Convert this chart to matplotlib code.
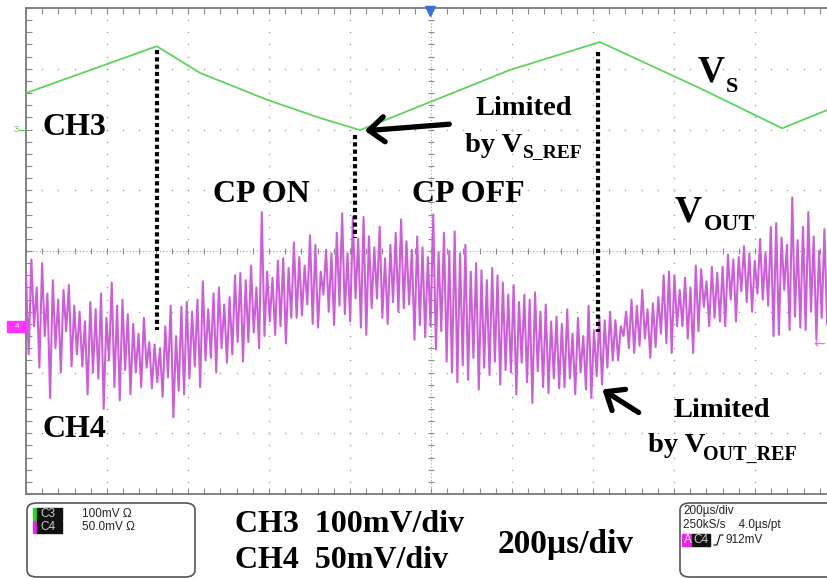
import numpy as np
import matplotlib
matplotlib.use("Agg")
import matplotlib.pyplot as plt
from matplotlib.patches import FancyBboxPatch, Rectangle
from matplotlib.lines import Line2D

W, H = 827, 578
SERIF = "Liberation Serif"
SANS = "Liberation Sans"

# screen: 10 div x 200 us, 8 div vertical
T_SPAN = (-1000, 1000)
Y_SPAN = (-4, 4)

# CH3 (V_S), 100 mV/div, screen-referenced
vs_t = [-1000, -677, -570, -405, -274, -175, 195, 417, 664, 867, 978]
vs_mv = [260, 337, 293, 249, 219, 199, 298, 344, 268, 202, 232]

# CH4 (V_OUT), 50 mV/div: ripple tips, read spike by spike
vout_hi_mv = [-20, -7, -30, -10, -35, -24, -40, -32, -28, -45,
              -50, -58, -42, -48, -35, -55, -26, -45, -40, -52,
              -60, -68, -55, -75, -77, -80, -62, -45, -70, -46,
              -42, -50, -40, -25, -48, -35, -30, -44, -38, -20,
              -18, -24, -12, -30, 32, -17, -22, -8, -6, -14,
              7, -5, -12, 13, 5, -17, 1, -2, 15, 31,
              -2, 28, 10, 28, 12, 3, 20, -6, 5, 15,
              26, 8, 1, 12, 3, -5, 30, -1, 15, 0,
              16, -2, 5, -17, -10, -16, -24, -14, -20, -26,
              -36, -28, -42, -36, -40, -34, -50, -44, -58, -54,
              -60, -48, -68, -55, -70, -45, -65, -54, -57, -50,
              -57, -62, -50, -40, -45, -32, -48, -43, -38, -20,
              -17, -20, -32, -22, -30, -12, -15, -25, -13, -18,
              -13, -3, -7, -5, 4, -2, -8, 10, -1, 20,
              23, 11, 5, 44, 9, 20, 32, 12, 0, 18]
vout_lo_mv = [-85, -62, -96, -70, -121, -80, -100, -66, -95, -85,
              -95, -118, -100, -105, -130, -90, -112, -123, -98, -118,
              -100, -112, -96, -113, -108, -120, -104, -137, -115, -118,
              -105, -95, -112, -90, -88, -100, -80, -92, -85, -75,
              -91, -75, -67, -80, -70, -58, -69, -62, -76, -55,
              -55, -53, -44, -60, -63, -36, -50, -61, -45, -52,
              -58, -39, -63, -69, -47, -39, -55, -60, -42, -50,
              -47, -44, -73, -61, -71, -62, -81, -66, -91, -100,
              -108, -94, -106, -88, -114, -96, -102, -91, -110, -98,
              -100, -118, -92, -108, -125, -99, -112, -117, -105, -113,
              -112, -105, -118, -100, -114, -121, -103, -110, -96, -90,
              -90, -70, -80, -84, -78, -72, -88, -79, -68, -76,
              -84, -62, -62, -72, -84, -66, -46, -62, -55, -58,
              -62, -40, -58, -33, -42, -50, -35, -40, -45, -70,
              -69, -32, -65, -54, -63, -65, -50, -73, -55, -60]
vout_t_end = 978

# CP ON/OFF boundaries (dotted markers): time, top div, bottom div
cp_t = [-677, -188, 412]
cp_top = [3.31, 1.91, 3.28]
cp_bot = [-1.30, 0.21, -1.33]


def fp(x, y):
    """image pixel (from top-left) -> figure fraction"""
    return x / W, 1 - y / H


fig = plt.figure(figsize=(W / 100, H / 100), dpi=100)
ax = fig.add_axes([26 / W, 1 - 494 / H, 810 / W, 486 / H])
ax.set_xlim(*T_SPAN)
ax.set_ylim(*Y_SPAN)
for s in ax.spines.values():
    s.set_color("#7a7a7a")
    s.set_linewidth(1.3)
ax.set_xticks(np.arange(-1000, 1001, 40))
ax.set_yticks(np.arange(-4, 4.01, 0.2))
ax.tick_params(direction="in", length=4, width=0.8, color="#8a8a8a",
               top=True, right=True, labelbottom=False, labelleft=False)

# graticule dots
gx = np.arange(-1000, 1001, 40)
gy = np.arange(-4, 4.01, 0.2)
for xv in range(-800, 801, 200):
    if xv != 0:
        ax.scatter(np.full(gy.size, xv), gy, s=1.2, color="#a0a0a0", lw=0, zorder=1)
for yv in range(-3, 4):
    if yv != 0:
        ax.scatter(gx, np.full(gx.size, yv), s=1.2, color="#a0a0a0", lw=0, zorder=1)
ax.plot(T_SPAN, [0, 0], color="#a0a0a0", lw=0.8, ls=(0, (1, 2)), zorder=1)
ax.plot(gx, np.zeros(gx.size), ls="none", marker="|", ms=5, mew=0.8,
        color="#8a8a8a", zorder=1)
ax.plot([0, 0], Y_SPAN, color="#a0a0a0", lw=0.8, ls=(0, (1, 2)), zorder=1)
ax.plot(np.zeros(gy.size), gy, ls="none", marker="_", ms=5, mew=0.8,
        color="#8a8a8a", zorder=1)

# traces
ax.plot(vs_t, np.array(vs_mv) / 100, color="#5fd35f", lw=1.3, zorder=3)
n = len(vout_hi_mv)
tt = np.linspace(T_SPAN[0], vout_t_end, 2 * n)
vv = np.empty(2 * n)
vv[0::2] = vout_hi_mv
vv[1::2] = vout_lo_mv
ax.plot(tt, vv / 50, color="#cc5fd8", lw=1.5, zorder=3)

for t, y0, y1 in zip(cp_t, cp_top, cp_bot):
    ax.plot([t, t], [y0, y1], color="black", lw=3.0, ls=(0, (1, 0.75)), zorder=4)

# annotations
big = dict(family=SERIF, weight="bold", color="black", va="baseline")
fig.text(*fp(42, 135), "CH3", fontsize=23, **big)
fig.text(*fp(213, 202), "CP ON", fontsize=23, **big)
fig.text(*fp(412, 202), "CP OFF", fontsize=23, **big)
fig.text(*fp(42, 437), "CH4", fontsize=23, **big)
fig.text(*fp(698, 82), "V", fontsize=27, **big)
fig.text(*fp(726, 92), "S", fontsize=16, **big)
fig.text(*fp(675, 222), "V", fontsize=27, **big)
fig.text(*fp(704, 230), "OUT", fontsize=17, **big)
fig.text(*fp(475, 115), "Limited", fontsize=20.5, **big)
fig.text(*fp(465, 152), "by V", fontsize=20.5, **big)
fig.text(*fp(523, 157), "S_REF", fontsize=14, **big)
fig.text(*fp(673, 417), "Limited", fontsize=20.5, **big)
fig.text(*fp(648, 452), "by V", fontsize=20.5, **big)
fig.text(*fp(703, 460), "OUT_REF", fontsize=14.5, **big)

arrow = dict(arrowstyle="->,head_length=0.55,head_width=0.45", lw=3.8,
             color="black", mutation_scale=20)
fig_px = "figure pixels"
ax.annotate("", xy=(362, H - 131), xycoords=fig_px, xytext=(452, H - 124),
            textcoords=fig_px, arrowprops=arrow, annotation_clip=False)
ax.annotate("", xy=(600, H - 388), xycoords=fig_px, xytext=(641, H - 414),
            textcoords=fig_px, arrowprops=arrow, annotation_clip=False)

# channel markers
fig.text(*fp(14, 130), "3", fontsize=6.5, color="#55cc55", family=SANS, va="center")
fig.add_artist(Line2D([19 / W, 25 / W], [1 - 130 / H] * 2, color="#55cc55", lw=0.8))
fig.patches.append(Rectangle(fp(7, 332), 19 / W, 11 / H, color="#ff33ff",
                             transform=fig.transFigure, figure=fig))
fig.text(*fp(15, 327), "4", fontsize=6, color="white", family=SANS, va="center")
fig.text(*fp(813, 344), "\u2190", fontsize=10, color="#ff55ff", family="DejaVu Sans",
         va="center")
fig.add_artist(Line2D([430 / W], [1 - 11 / H], marker="v", ms=7, color="#3a70d8",
                      ls="none"))

# bottom readout
fig.patches.append(FancyBboxPatch(fp(27, 577), 168 / W, 74 / H,
                                  boxstyle="round,pad=0,rounding_size=0.012",
                                  fc="white", ec="#555555", lw=1.2,
                                  transform=fig.transFigure, figure=fig))
fig.patches.append(FancyBboxPatch(fp(680, 577), 160 / W, 74 / H,
                                  boxstyle="round,pad=0,rounding_size=0.012",
                                  fc="white", ec="#555555", lw=1.2,
                                  transform=fig.transFigure, figure=fig))
small = dict(family=SANS, fontsize=8.5, color="#222222", va="center")
for yrow, bar, lab, txt in [(514, "#22dd22", "C3", "100mV \u03a9"),
                            (527, "#ee22ee", "C4", "50.0mV \u03a9")]:
    fig.patches.append(Rectangle(fp(33, yrow + 6), 3 / W, 12 / H, color=bar,
                                 transform=fig.transFigure, figure=fig))
    fig.patches.append(Rectangle(fp(37, yrow + 6), 25 / W, 12 / H, color="#111111",
                                 transform=fig.transFigure, figure=fig))
    fig.text(*fp(40, yrow), lab, family=SANS, fontsize=8.5, color="#cccccc",
             va="center")
    fig.text(*fp(82, yrow), txt, **small)

fig.text(*fp(683, 511), "200\u00b5s/div", **small)
fig.text(*fp(683, 525), "250kS/s    4.0\u00b5s/pt", **small)
fig.patches.append(Rectangle(fp(682, 546), 10 / W, 12 / H, color="#ee22ee",
                             transform=fig.transFigure, figure=fig))
fig.patches.append(Rectangle(fp(692, 546), 18 / W, 12 / H, color="#111111",
                             transform=fig.transFigure, figure=fig))
fig.text(*fp(684, 540), "A", family=SANS, fontsize=8.5, color="white", va="center")
fig.text(*fp(693, 540), "C4", family=SANS, fontsize=8.5, color="#cccccc", va="center")
fig.add_artist(Line2D(np.array([714, 717, 720, 723]) / W,
                      1 - np.array([545, 545, 535, 535]) / H, color="#222222", lw=0.9))
fig.text(*fp(726, 540), "912mV", **small)

fig.text(*fp(235, 532), "CH3  100mV/div", fontsize=23, **big)
fig.text(*fp(235, 568), "CH4  50mV/div", fontsize=23, **big)
fig.text(*fp(498, 553), "200\u00b5s/div", fontsize=24, **big)

fig.savefig("out.png", dpi=100)
